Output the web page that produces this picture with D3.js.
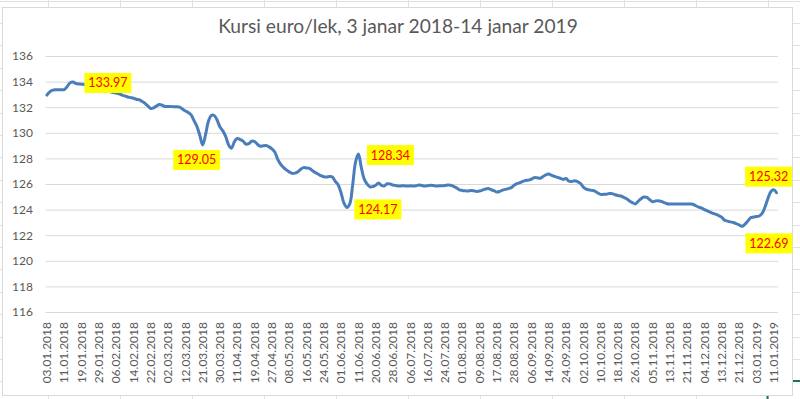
<!DOCTYPE html>
<html>
<head>
<meta charset="utf-8">
<script src="https://cdn.jsdelivr.net/npm/d3@7/dist/d3.min.js"></script>
<style>
    body { margin: 0; background: #fff; }
    svg { display: block; font-family: Lato, "Open Sans", sans-serif; }
</style>
</head>
<body>
<svg id="chart" width="800" height="399"></svg>
<script>
const TITLE = "Kursi euro/lek, 3 janar 2018-14 janar 2019";

// one label every 6 business days
const LABEL_STEP = 6;
const TICK_LABELS = [
    "03.01.2018", "11.01.2018", "19.01.2018", "29.01.2018", "06.02.2018", "14.02.2018",
    "22.02.2018", "02.03.2018", "12.03.2018", "21.03.2018", "30.03.2018", "11.04.2018",
    "19.04.2018", "27.04.2018", "08.05.2018", "16.05.2018", "24.05.2018", "01.06.2018",
    "11.06.2018", "20.06.2018", "28.06.2018", "06.07.2018", "16.07.2018", "24.07.2018",
    "01.08.2018", "09.08.2018", "17.08.2018", "28.08.2018", "06.09.2018", "14.09.2018",
    "24.09.2018", "02.10.2018", "10.10.2018", "18.10.2018", "26.10.2018", "05.11.2018",
    "13.11.2018", "21.11.2018", "04.12.2018", "13.12.2018", "21.12.2018", "03.01.2019",
    "11.01.2019"
];

const Y_TICKS = [116, 118, 120, 122, 124, 126, 128, 130, 132, 134, 136];

// daily EUR/ALL rate, 03.01.2018 - 14.01.2019
const RATES = [
    132.95, 133.2, 133.33, 133.36, 133.36, 133.37, 133.38, 133.6, 133.9, 133.97,
    133.85, 133.82, 133.8, 133.78, 133.72, 133.68, 133.6, 133.5, 133.45, 133.4,
    133.3, 133.25, 133.2, 133.15, 133.1, 133.05, 132.95, 132.88, 132.8, 132.75,
    132.7, 132.62, 132.58, 132.45, 132.3, 132.1, 131.9, 131.95, 132.1, 132.22,
    132.15, 132.06, 132.05, 132.05, 132.04, 132.04, 132.0, 131.85, 131.7, 131.58,
    131.4, 130.95, 130.5, 129.8, 129.05, 129.85, 130.9, 131.35, 131.35, 131.0,
    130.45, 130.15, 129.7, 129.05, 128.8, 129.3, 129.55, 129.47, 129.35, 129.12,
    129.15, 129.35, 129.32, 129.1, 128.95, 128.98, 129.0, 128.9, 128.75, 128.5,
    127.95, 127.55, 127.3, 127.1, 126.95, 126.83, 126.85, 126.95, 127.15, 127.28,
    127.25, 127.22, 127.05, 126.9, 126.78, 126.65, 126.57, 126.55, 126.58, 126.55,
    126.2, 125.92, 125.3, 124.5, 124.17, 124.45, 125.9, 127.7, 128.34, 127.3,
    126.4, 126.0, 125.78, 125.8, 125.9, 126.08, 125.9, 125.85, 126.02, 126.0,
    125.92, 125.88, 125.84, 125.86, 125.86, 125.84, 125.86, 125.84, 125.86, 125.92,
    125.88, 125.84, 125.86, 125.9, 125.88, 125.84, 125.86, 125.86, 125.88, 125.92,
    125.9, 125.82, 125.7, 125.55, 125.5, 125.47, 125.45, 125.5, 125.47, 125.42,
    125.45, 125.52, 125.6, 125.64, 125.56, 125.48, 125.38, 125.42, 125.52, 125.58,
    125.64, 125.72, 125.9, 126.02, 126.1, 126.2, 126.27, 126.3, 126.38, 126.5,
    126.48, 126.45, 126.58, 126.72, 126.78, 126.68, 126.6, 126.52, 126.45, 126.36,
    126.43, 126.22, 126.2, 126.26, 126.18, 126.05, 125.75, 125.6, 125.54, 125.5,
    125.45, 125.3, 125.19, 125.19, 125.2, 125.25, 125.25, 125.16, 125.1, 125.06,
    124.95, 124.85, 124.68, 124.55, 124.44, 124.65, 124.85, 124.98, 124.95, 124.78,
    124.62, 124.67, 124.7, 124.64, 124.55, 124.46, 124.44, 124.44, 124.44, 124.44,
    124.44, 124.44, 124.44, 124.44, 124.42, 124.3, 124.2, 124.12, 124.0, 123.9,
    123.8, 123.7, 123.62, 123.52, 123.4, 123.17, 123.1, 123.04, 122.99, 122.9,
    122.8, 122.69, 122.85, 123.1, 123.37, 123.42, 123.46, 123.5, 123.7, 124.2,
    124.85, 125.4, 125.55, 125.32
];

// labelled points: index into RATES + where the yellow box sits relative to the point
const NOTES = [
    { i: 9, dx: 35, dy: 1 },
    { i: 54, dx: -6, dy: 15 },
    { i: 104, dx: 31, dy: 2 },
    { i: 108, dx: 32, dy: 1 },
    { i: 241, dx: 27, dy: 17 },
    { i: 253, dx: -8, dy: -16 }
];

const W = 800, H = 399;
const PLOT = { left: 45.5, right: 778, top: 56, bottom: 312 };
const TEXT_COLOR = "#595959";
const GRID_COLOR = "#d9d9d9";
const LINE_COLOR = "#4a7ebb";

const svg = d3.select("#chart");

// spreadsheet cells behind the chart object
const sheet = svg.append("g").attr("class", "sheet");
d3.range(48, W, 72).forEach((x) => {
    sheet.append("line").attr("x1", x + 0.5).attr("x2", x + 0.5).attr("y1", 0).attr("y2", H)
        .attr("stroke", "#e1e1e1");
});
d3.range(0.5, H, 22.4).forEach((y) => {
    sheet.append("line").attr("x1", 0).attr("x2", W).attr("y1", Math.round(y) + 0.5).attr("y2", Math.round(y) + 0.5)
        .attr("stroke", "#e1e1e1");
});
sheet.append("line").attr("x1", 767.5).attr("x2", 767.5).attr("y1", 395).attr("y2", 399)
    .attr("stroke", "#217346").attr("stroke-width", 2);
sheet.append("line").attr("x1", 793).attr("x2", 800).attr("y1", 381).attr("y2", 381)
    .attr("stroke", "#217346").attr("stroke-width", 2);

// chart area
svg.append("rect")
    .attr("x", 2.5).attr("y", 7.5).attr("width", 790).attr("height", 388)
    .attr("fill", "#fff").attr("stroke", GRID_COLOR);

// title, fitted to the width it takes in the original
const title = svg.append("text")
    .attr("x", 398).attr("y", 33)
    .attr("text-anchor", "middle")
    .attr("fill", TEXT_COLOR)
    .style("font-size", "18px")
    .text(TITLE);
const tw = title.node().getComputedTextLength();
title.style("font-size", (18 * 360 / tw).toFixed(2) + "px");

const x = d3.scaleBand()
    .domain(d3.range(RATES.length))
    .range([PLOT.left, PLOT.right]);
const xc = (i) => x(i) + x.bandwidth() / 2;

const y = d3.scaleLinear()
    .domain([d3.min(Y_TICKS), d3.max(Y_TICKS)])
    .range([PLOT.bottom, PLOT.top]);

// gridlines
svg.append("g")
    .attr("transform", `translate(${PLOT.left},0)`)
    .call(d3.axisLeft(y).tickValues(Y_TICKS).tickSize(-(PLOT.right - PLOT.left)).tickFormat(""))
    .call((g) => g.select(".domain").remove())
    .call((g) => g.selectAll(".tick line").attr("stroke", GRID_COLOR));

// y labels
svg.append("g")
    .attr("transform", `translate(${PLOT.left},0)`)
    .call(d3.axisLeft(y).tickValues(Y_TICKS).tickSize(0).tickPadding(12.5))
    .call((g) => g.select(".domain").remove())
    .call((g) => g.selectAll("text").attr("fill", TEXT_COLOR).style("font-size", "12px")
        .style("font-family", "Lato, 'Open Sans', sans-serif"));

// x labels, rotated
svg.append("g")
    .attr("transform", `translate(0,${PLOT.bottom})`)
    .call(d3.axisBottom(x)
        .tickValues(d3.range(0, RATES.length, LABEL_STEP))
        .tickFormat((i) => TICK_LABELS[i / LABEL_STEP])
        .tickSize(0))
    .call((g) => g.select(".domain").remove())
    .call((g) => g.selectAll("text")
        .attr("x", 0).attr("y", 0).attr("dy", "0.35em")
        .attr("transform", "translate(0,10) rotate(-90)")
        .attr("text-anchor", "end")
        .attr("fill", TEXT_COLOR)
        .style("font-size", "12px")
        .style("font-family", "Lato, 'Open Sans', sans-serif"));

// the rate line
const line = d3.line()
    .x((d, i) => xc(i))
    .y((d) => y(d))
    .curve(d3.curveCatmullRom.alpha(0.5));

svg.append("path")
    .datum(RATES)
    .attr("d", line)
    .attr("fill", "none")
    .attr("stroke", LINE_COLOR)
    .attr("stroke-width", 3)
    .attr("stroke-linejoin", "round")
    .attr("stroke-linecap", "round");

// yellow value boxes
const notes = svg.append("g").attr("class", "notes");
NOTES.forEach((n) => {
    const cx = xc(n.i) + n.dx;
    const cy = y(RATES[n.i]) + n.dy;
    const g = notes.append("g").attr("transform", `translate(${cx},${cy})`);
    g.append("rect")
        .attr("x", -23.5).attr("y", -10).attr("width", 47).attr("height", 20)
        .attr("fill", "#ffff00");
    g.append("text")
        .attr("text-anchor", "middle")
        .attr("dy", "0.36em")
        .attr("fill", "#ff0000")
        .style("font-size", "12.5px")
        .text(RATES[n.i].toFixed(2));
});
</script>
</body>
</html>
